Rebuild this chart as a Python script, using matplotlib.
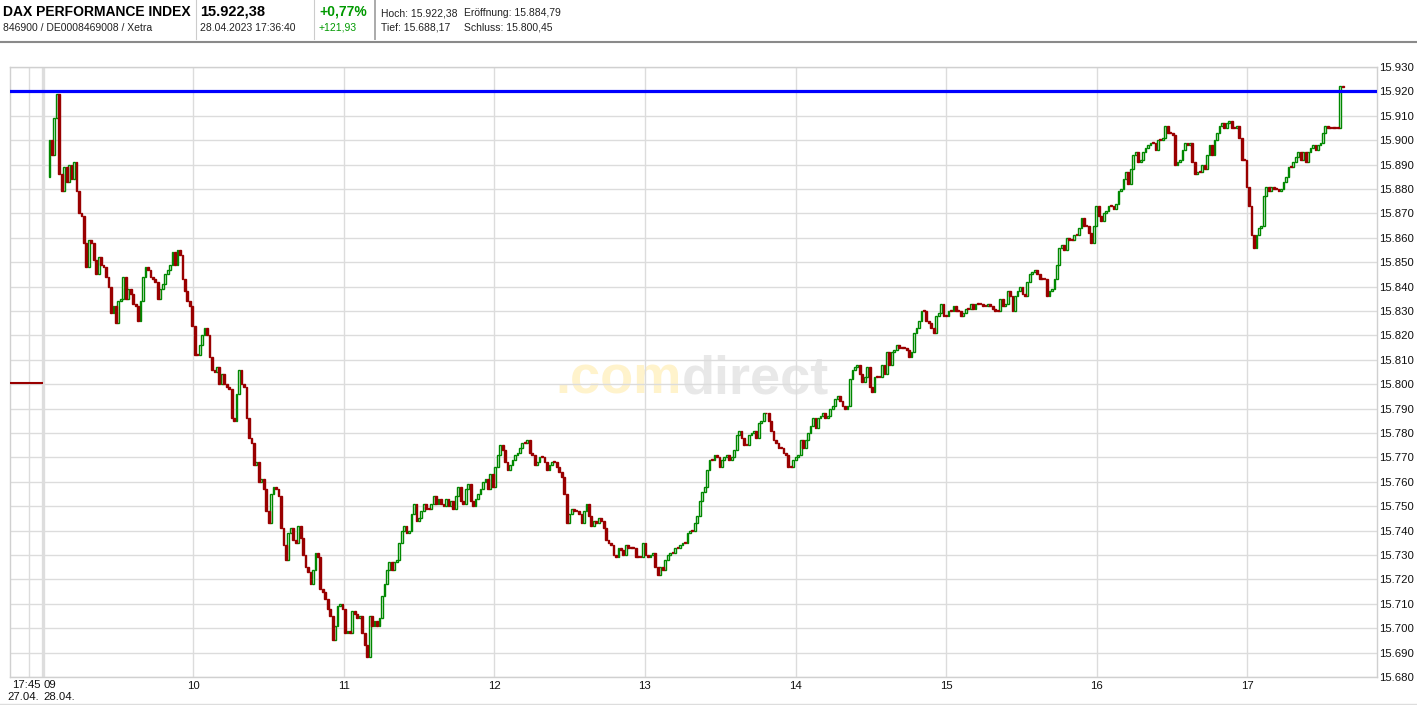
import numpy as np
import matplotlib
matplotlib.use('Agg')
import matplotlib.pyplot as plt
from matplotlib.lines import Line2D
from matplotlib.transforms import blended_transform_factory

plt.rcParams['font.family'] = ['Liberation Sans', 'DejaVu Sans']

W, H = 1417, 705

# quote header
title = 'DAX PERFORMANCE INDEX'
ident = '846900 / DE0008469008 / Xetra'
last_price = '15.922,38'
stamp = '28.04.2023 17:36:40'
chg_pct = '+0,77%'
chg_abs = '+121,93'
stats_top = ['Hoch: 15.922,38', 'Eröffnung: 15.884,79']
stats_bot = ['Tief: 15.688,17', 'Schluss: 15.800,45']

# intraday candles (minute closes, open = previous close)
first_open = 15884.79
prev_close = 15800.45
resistance = 15920
closes = [
    15900, 15894, 15909, 15919, 15886, 15879, 15889, 15883, 15890, 15884,
    15891, 15879, 15870, 15869, 15858, 15848, 15859, 15858, 15851, 15845,
    15852, 15849, 15848, 15844, 15840, 15829, 15832, 15825, 15834, 15835,
    15844, 15835, 15839, 15837, 15833, 15832, 15826, 15834, 15844, 15848,
    15847, 15844, 15843, 15842, 15835, 15839, 15841, 15845, 15847, 15849,
    15854, 15849, 15855, 15853, 15843, 15838, 15834, 15832, 15824, 15812,
    15812, 15816, 15820, 15823, 15820, 15811, 15806, 15805, 15807, 15800,
    15804, 15800, 15799, 15798, 15786, 15785, 15796, 15806, 15800, 15799,
    15786,
    15778, 15776, 15767, 15768, 15760, 15761, 15757, 15748, 15743,
    15755, 15758, 15757, 15754, 15741, 15734, 15728, 15739, 15741, 15736,
    15735, 15742, 15737, 15730, 15725, 15723, 15718, 15724, 15731, 15729,
    15716, 15715, 15712, 15708, 15705, 15695, 15701, 15709, 15710, 15708,
    15698, 15699, 15698, 15707, 15706, 15704, 15705, 15698, 15693, 15688,
    15705, 15701, 15703, 15701, 15704, 15713, 15718, 15724, 15727, 15724,
    15727, 15728, 15735, 15740, 15742, 15739, 15740, 15747, 15751, 15744,
    15745, 15748, 15751, 15749, 15749, 15751, 15754, 15751, 15753, 15751,
    15750, 15753, 15750, 15752, 15749, 15754, 15758, 15752, 15751, 15757,
    15759, 15752, 15750, 15753, 15755, 15757, 15760, 15761, 15757, 15763,
    15758, 15766, 15771, 15775, 15773, 15768, 15765, 15767,
    15769, 15771, 15772, 15774, 15776, 15776, 15777, 15772, 15771, 15767,
    15768, 15770, 15770, 15768, 15765, 15767, 15768, 15768, 15766, 15764,
    15762, 15755, 15743, 15747, 15749, 15748, 15748, 15747, 15743, 15748,
    15751, 15746, 15742, 15744, 15743, 15745, 15744, 15741, 15736, 15735,
    15734, 15730, 15729, 15733, 15732, 15730, 15734, 15733, 15733, 15733,
    15729, 15729, 15729, 15735, 15730, 15729, 15730, 15731, 15725, 15722,
    15725, 15724, 15728, 15730, 15731, 15731, 15733, 15733, 15734, 15735,
    15735, 15739, 15740, 15740, 15743, 15746, 15752, 15756, 15758, 15765,
    15769, 15769, 15771, 15770, 15766, 15769, 15770, 15771, 15769, 15770,
    15773, 15779, 15781, 15778, 15775, 15775, 15779, 15780, 15781, 15778,
    15784, 15785, 15788, 15788, 15785, 15781, 15777, 15776, 15774, 15774,
    15772, 15771, 15766, 15766, 15769, 15770, 15771, 15777, 15774, 15777,
    15780, 15783, 15786, 15782, 15786, 15787, 15788, 15786, 15787, 15790,
    15791, 15794, 15795, 15793, 15791, 15790, 15791, 15802, 15806,
    15807, 15808, 15804, 15801, 15803, 15807, 15799, 15797, 15803, 15803,
    15803, 15808, 15804, 15813, 15808, 15813, 15814, 15816, 15815, 15815,
    15815, 15814, 15811, 15813, 15821, 15823, 15826, 15830, 15830, 15826,
    15825, 15823, 15821, 15828, 15829, 15833, 15828, 15828, 15830, 15830,
    15832, 15830, 15830, 15828, 15829, 15831, 15831, 15833, 15831, 15833,
    15833, 15833, 15832, 15832, 15833,
    15832, 15831, 15830, 15830, 15835, 15832, 15833, 15838, 15836, 15830,
    15836, 15838, 15840, 15837, 15836, 15842, 15845, 15846, 15847, 15845,
    15843, 15843, 15843, 15836, 15838, 15839, 15843, 15849, 15856, 15857,
    15855, 15860, 15859, 15859, 15861, 15861, 15864, 15868, 15865, 15865,
    15862, 15858, 15865, 15873, 15869, 15867, 15870, 15871, 15873, 15873,
    15872, 15874, 15879, 15880, 15884, 15887, 15882, 15888, 15894, 15895,
    15891, 15892, 15895, 15897, 15898, 15899, 15899, 15896, 15900, 15900,
    15901, 15906, 15903, 15903, 15902, 15890, 15891, 15892, 15896, 15899,
    15898, 15899, 15891, 15886, 15887, 15887, 15890, 15888, 15894, 15898,
    15894, 15900, 15903, 15906, 15907, 15905, 15907, 15908, 15905, 15905,
    15906, 15901, 15892, 15892, 15881, 15873,
    15861, 15856, 15861, 15864, 15865, 15877, 15881, 15879, 15881, 15880,
    15880, 15879, 15880, 15883, 15885, 15889, 15889, 15891, 15893, 15895,
    15892, 15895, 15891, 15895, 15897, 15898, 15896, 15898, 15899, 15903,
    15906, 15905, 15905, 15905, 15905, 15905, 15922.38, 15922,
]

hours = [10, 11, 12, 13, 14, 15, 16, 17]
y_ticks = np.arange(15680, 15931, 10)

red = '#990000'
green = '#008800'
grid_c = '#dcdcdc'

fig = plt.figure(figsize=(W / 100, H / 100), dpi=100)
ax = fig.add_axes([10 / W, 1 - 677 / H, 1367 / W, 610 / H])

# x in minutes after 09:00
t_first, t_last = 2.7, 518.0
step = (t_last - t_first) / (len(closes) - 1)
t = t_first + step * np.arange(len(closes))
c = np.array(closes, dtype=float)
o = np.concatenate([[first_open], c[:-1]])
up = c > o

bw = 0.72 * step
body = np.abs(c - o)
body = np.where(body < 0.4, 0.4, body)
lo = np.minimum(o, c)
ax.bar(t[up], body[up], bottom=lo[up], width=bw, facecolor='white',
       edgecolor=green, linewidth=1.0, zorder=4)
ax.bar(t[~up], body[~up], bottom=lo[~up], width=bw, facecolor=red,
       edgecolor=red, linewidth=1.0, zorder=4)

ax.axhline(resistance, color='#0000ff', lw=2.3, zorder=5)
ax.plot([-13, 0.2], [prev_close, prev_close], color=red, lw=1.5, zorder=4,
        solid_capstyle='butt')

ax.set_xlim(-13.0, 531.7)
ax.set_ylim(15680, 15930)
ax.set_axisbelow(True)

ax.set_yticks(y_ticks)
ax.set_yticklabels([f'{v:,.0f}'.replace(',', '.') for v in y_ticks])
ax.yaxis.tick_right()
ax.set_xticks([(h - 9) * 60 for h in hours] + [-5.4])
ax.set_xticklabels([f'{h:d}' for h in hours] + [''])
ax.tick_params(length=0, labelsize=8.2, colors='#111', pad=1.5)
ax.tick_params(axis='x', pad=3)
ax.grid(True, color=grid_c, lw=1.0)
ax.axvline(0, color='#dddddd', lw=2.4, zorder=0.6)
for s in ax.spines.values():
    s.set_color('#d0d0d0')
    s.set_linewidth(1.0)

tr = blended_transform_factory(ax.transData, ax.transAxes)
ax.text(-0.8, -0.0135, '17:45', transform=tr, ha='right', va='center',
        fontsize=8.2, color='#111')
ax.text(0.3, -0.0135, '09', transform=tr, ha='left', va='center',
        fontsize=8.2, color='#111')
ax.text(-1.2, -0.0335, '27.04.', transform=tr, ha='right', va='center',
        fontsize=8.2, color='#111')
ax.text(0.3, -0.0335, '28.04.', transform=tr, ha='left', va='center',
        fontsize=8.2, color='#111')

# watermark
ax.text(555 / W, 1 - 393 / H, '.com', transform=fig.transFigure,
        fontsize=39, weight='bold', color='#fff3cc', va='baseline', zorder=0.3)
ax.text(682 / W, 1 - 393 / H, 'direct', transform=fig.transFigure,
        fontsize=39, weight='bold', color='#e8e8e8', va='baseline', zorder=0.3)

# header
def ftxt(x, y, s, **kw):
    fig.text(x / W, 1 - y / H, s, va='center', ha='left', **kw)

ftxt(3, 12, title, fontsize=10, weight='bold', color='#000')
ftxt(3, 28, ident, fontsize=7.5, color='#222')
ftxt(200, 12, last_price, fontsize=10.5, weight='bold', color='#000')
ftxt(200, 28, stamp, fontsize=7.5, color='#222')
ftxt(319, 12, chg_pct, fontsize=10, weight='bold', color='#009900')
ftxt(319, 28, chg_abs, fontsize=7.5, color='#009900')
ftxt(381, 13, stats_top[0], fontsize=7.5, color='#222')
ftxt(464, 13, stats_top[1], fontsize=7.5, color='#222')
ftxt(381, 28, stats_bot[0], fontsize=7.5, color='#222')
ftxt(464, 28, stats_bot[1], fontsize=7.5, color='#222')

for xs, col, lw in [(196, '#cccccc', 0.8), (314, '#cccccc', 0.8), (375, '#aaaaaa', 1.4)]:
    fig.add_artist(Line2D([xs / W, xs / W], [1, 1 - 39 / H], color=col, lw=lw,
                          transform=fig.transFigure))
fig.add_artist(Line2D([0, 1], [1 - 41.5 / H] * 2, color='#8a8a8a', lw=1.5,
                      transform=fig.transFigure))
fig.add_artist(Line2D([0, 1], [1 - 703.5 / H] * 2, color='#dddddd', lw=1.0,
                      transform=fig.transFigure))

fig.savefig('out.png', dpi=100)
